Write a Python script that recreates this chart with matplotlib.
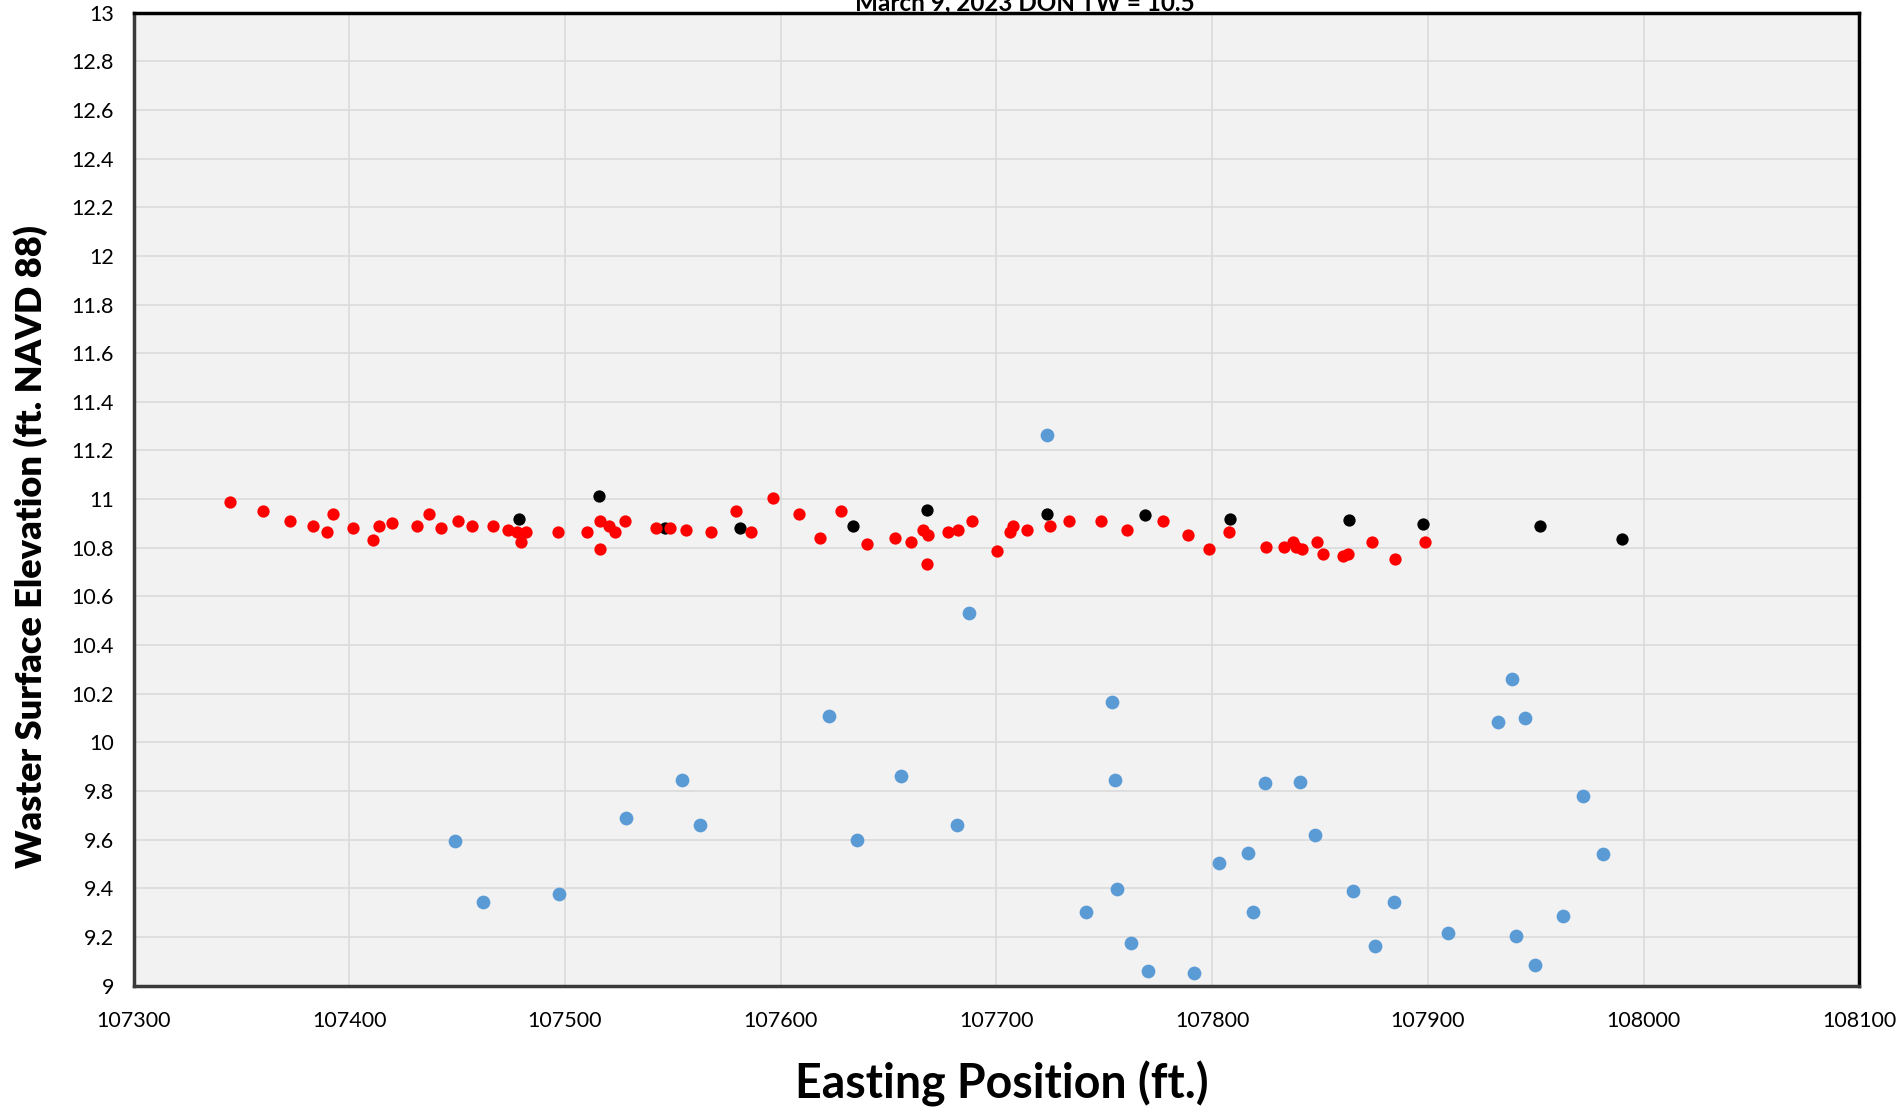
import matplotlib
matplotlib.use("Agg")
import matplotlib.pyplot as plt
import numpy as np

# ---------------------------------------------------
# data
# ---------------------------------------------------
red_x = [107344.7, 107360.1, 107372.5, 107383.0, 107389.6, 107392.6, 107401.9, 107410.8,
         107413.8, 107419.6, 107431.4, 107436.9, 107442.5, 107450.2, 107456.9, 107466.5,
         107473.6, 107477.6, 107481.9, 107479.8, 107496.6, 107510.2, 107516.0, 107516.0,
         107520.2, 107523.3, 107527.9, 107542.3, 107548.5, 107556.2, 107567.9, 107579.5,
         107586.1, 107596.6, 107608.3, 107618.2, 107627.8, 107639.8, 107653.2, 107660.5,
         107666.0, 107668.4, 107667.9, 107677.6, 107682.3, 107688.9, 107700.3, 107706.2,
         107707.7, 107714.2, 107724.8, 107733.8, 107748.4, 107760.5, 107777.2, 107789.0,
         107798.5, 107807.9, 107825.0, 107833.3, 107837.7, 107839.1, 107841.5, 107848.4,
         107851.3, 107860.5, 107863.1, 107873.9, 107885.0, 107898.5]
red_y = [10.988, 10.950, 10.910, 10.891, 10.863, 10.940, 10.882, 10.833,
         10.891, 10.901, 10.891, 10.940, 10.882, 10.910, 10.891, 10.891,
         10.872, 10.863, 10.863, 10.822, 10.863, 10.863, 10.910, 10.793,
         10.891, 10.863, 10.910, 10.882, 10.882, 10.872, 10.863, 10.950,
         10.863, 11.004, 10.940, 10.842, 10.950, 10.814, 10.842, 10.823,
         10.872, 10.852, 10.735, 10.863, 10.872, 10.910, 10.785, 10.863,
         10.891, 10.872, 10.891, 10.910, 10.910, 10.872, 10.910, 10.852,
         10.793, 10.863, 10.803, 10.803, 10.823, 10.803, 10.793, 10.823,
         10.774, 10.765, 10.774, 10.823, 10.755, 10.823]

black_x = [107478.7, 107515.7, 107546.5, 107581.2, 107633.3, 107667.7, 107723.6,
           107769.0, 107808.4, 107863.5, 107897.9, 107952.0, 107990.2]
black_y = [10.920, 11.011, 10.882, 10.882, 10.891, 10.955, 10.940,
           10.935, 10.920, 10.916, 10.897, 10.891, 10.837]

blue_x = [107448.9, 107461.8, 107497.1, 107528.2, 107554.4, 107562.7, 107622.3, 107635.6,
          107655.8, 107681.9, 107687.2, 107723.3, 107741.6, 107753.8, 107754.8, 107755.9,
          107762.5, 107770.5, 107791.6, 107803.4, 107816.7, 107819.0, 107824.5, 107840.7,
          107847.8, 107865.2, 107875.7, 107884.1, 107909.2, 107932.6, 107939.2, 107940.8,
          107945.2, 107949.9, 107962.5, 107972.1, 107981.0]
blue_y = [9.594, 9.342, 9.376, 9.687, 9.844, 9.662, 10.110, 9.598,
          9.863, 9.662, 10.532, 11.265, 9.304, 10.166, 9.846, 9.397,
          9.174, 9.061, 9.052, 9.505, 9.544, 9.302, 9.831, 9.836,
          9.618, 9.387, 9.164, 9.342, 9.218, 10.082, 10.261, 9.204,
          10.102, 9.086, 9.288, 9.781, 9.540]

x_ticks = np.arange(107300, 108101, 100)
y_ticks = np.arange(9, 13.01, 0.2)

title = "March 9, 2023 DON TW = 10.5"
x_label = "Easting Position (ft.)"
y_label = "Waster Surface Elevation (ft. NAVD 88)"

# ---------------------------------------------------
# plot
# ---------------------------------------------------
plt.rcParams['font.family'] = ['Lato', 'DejaVu Sans']

fig = plt.figure(figsize=(19.03, 11.11), dpi=100)
ax = fig.add_axes([0.0702, 0.1129, 0.977 - 0.0702, 0.9886 - 0.1129])
ax.set_facecolor('#F2F2F2')

ax.scatter(blue_x, blue_y, s=98, color='#5B9BD5', linewidths=0, zorder=3)
ax.scatter(black_x, black_y, s=78, color='black', linewidths=0, zorder=4)
ax.scatter(red_x, red_y, s=78, color='#FF0000', linewidths=0, zorder=5)

ax.set_xlim(107300, 108100)
ax.set_ylim(9, 13)
ax.set_xticks(x_ticks)
ax.set_yticks(y_ticks)
ax.set_yticklabels([f"{v:g}" for v in np.round(y_ticks, 1)])
ax.grid(True, color='#D9D9D9', linewidth=1.1, zorder=0)
ax.set_axisbelow(True)
ax.tick_params(axis='both', length=0, labelsize=15.5, colors='black')
ax.tick_params(axis='x', pad=18)
ax.tick_params(axis='y', pad=14)

for side in ['top', 'right']:
    ax.spines[side].set_linewidth(2.5)
    ax.spines[side].set_color('black')
for side in ['left', 'bottom']:
    ax.spines[side].set_linewidth(2.5)
    ax.spines[side].set_color('#3A3A3A')

fig.text(1025 / 1903, 1 - 10 / 1111, title, ha='center', va='baseline',
         fontsize=17.5, fontweight='bold')
fig.text(1002 / 1903, 1 - 1084 / 1111, x_label, ha='center', va='center',
         fontsize=33.5, fontweight='bold')
fig.text(31 / 1903, 1 - 547 / 1111, y_label, ha='center', va='center',
         rotation=90, fontsize=26, fontweight='heavy')

fig.savefig('out.png', dpi=100)
